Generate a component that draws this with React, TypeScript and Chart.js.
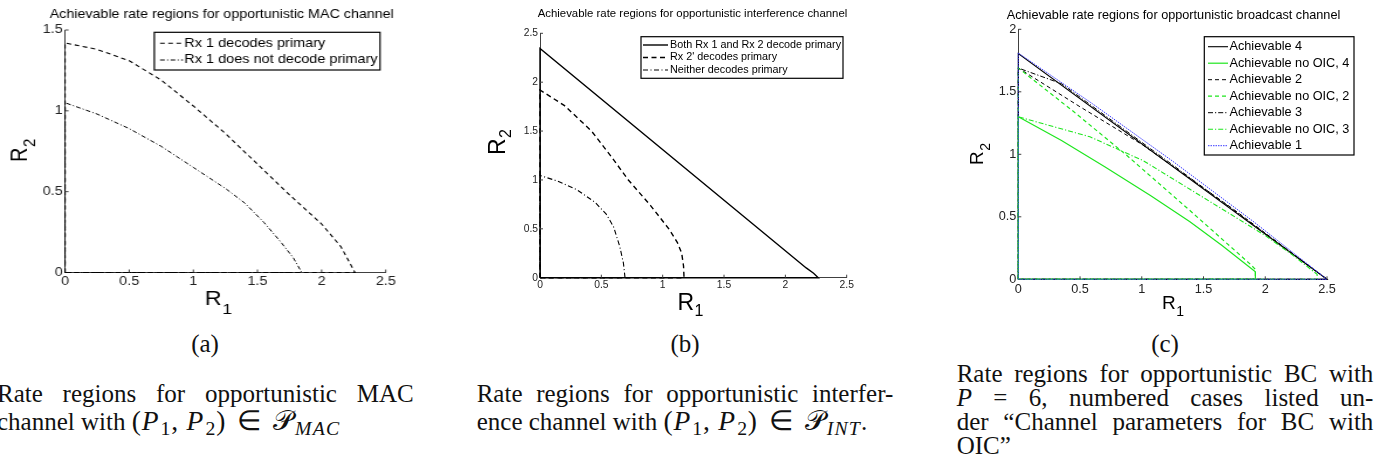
import React, { useEffect, useRef } from "react";
import { Chart, registerables } from "chart.js";

Chart.register(...registerables);

// ---------------- (a) opportunistic MAC channel ----------------
const macTicksR1 = [0, 0.5, 1, 1.5, 2, 2.5];
const macTicksR2 = [0, 0.5, 1, 1.5];
const macDecodeR1 = [0, 0, 0.25, 0.5, 0.75, 1.0, 1.25, 1.5, 1.75, 2.0, 2.15, 2.26, 0];
const macDecodeR2 = [0, 1.42, 1.38, 1.31, 1.19, 1.03, 0.86, 0.67, 0.48, 0.3, 0.16, 0, 0];
const macNoDecodeR1 = [0, 0, 0.25, 0.5, 0.75, 1.0, 1.25, 1.4, 1.55, 1.68, 1.78, 1.845, 0];
const macNoDecodeR2 = [0, 1.05, 0.98, 0.89, 0.78, 0.65, 0.52, 0.43, 0.31, 0.19, 0.09, 0, 0];

// ---------------- (b) opportunistic interference channel ----------------
const intTicksR1 = [0, 0.5, 1, 1.5, 2, 2.5];
const intTicksR2 = [0, 0.5, 1, 1.5, 2, 2.5];
const intBothR1 = [0, 0, 2.17, 2.23, 2.268, 0];
const intBothR2 = [0, 2.345, 0.1, 0.045, 0, 0];
const intRx2R1 = [0, 0, 0.2, 0.42, 0.58, 0.72, 0.9, 1.05, 1.12, 1.155, 1.17, 1.174, 0];
const intRx2R2 = [0, 1.92, 1.76, 1.5, 1.24, 1.0, 0.74, 0.5, 0.36, 0.25, 0.12, 0, 0];
const intNeitherR1 = [0, 0, 0.14, 0.3, 0.45, 0.54, 0.6, 0.65, 0.68, 0.693, 0];
const intNeitherR2 = [0, 1.045, 0.99, 0.9, 0.77, 0.65, 0.52, 0.32, 0.15, 0, 0];

// ---------------- (c) opportunistic broadcast channel ----------------
const bcTicksR1 = [0, 0.5, 1, 1.5, 2, 2.5];
const bcTicksR2 = [0, 0.5, 1, 1.5, 2];
const bcAch4R1 = [0, 0, 2.5, 0];
const bcAch4R2 = [0, 1.806, 0, 0];
const bcNoOic4R1 = [0, 0, 0.35, 0.7, 1.07, 1.39, 1.65, 1.92, 1.92, 0];
const bcNoOic4R2 = [0, 1.3, 1.11, 0.9, 0.67, 0.46, 0.27, 0.06, 0, 0];
const bcAch2R1 = [0, 0, 0.5, 1.0, 1.75, 2.5, 0];
const bcAch2R2 = [0, 1.69, 1.38, 1.08, 0.555, 0, 0];
const bcNoOic2R1 = [0, 0, 0.45, 0.88, 1.39, 1.88, 1.92, 1.92, 0];
const bcNoOic2R2 = [0, 1.69, 1.34, 0.99, 0.55, 0.12, 0.08, 0, 0];
const bcAch3R1 = [0, 0, 0.35, 1.25, 2.5, 0];
const bcAch3R2 = [0, 1.69, 1.565, 0.915, 0, 0];
const bcNoOic3R1 = [0, 0, 0.58, 1.01, 1.39, 1.72, 2.0, 2.2, 2.42, 2.42, 0];
const bcNoOic3R2 = [0, 1.3, 1.14, 0.95, 0.72, 0.52, 0.35, 0.21, 0.04, 0, 0];
const bcAch1R1 = [0, 0, 0.6, 1.25, 1.9, 2.5, 0];
const bcAch1R2 = [0, 1.81, 1.405, 0.945, 0.465, 0, 0];

// ---------------- styling ----------------
const SANS = '"Liberation Sans", Arial, Helvetica, sans-serif';
const SERIF = '"Liberation Serif", "Times New Roman", Times, serif';
const BLACK = "#000000";
const GREEN = "#1ee61e";
const BLUE = "#3c3cff";
const AXIS = "#404040";
const TICKTEXT = "#222222";

type Series = { label: string; r1: number[]; r2: number[]; color: string; dash: number[]; width: number };
type RLabel = { x: number; y: number; size: number; sub: string; subSize: number; subDy: number };
type PanelDef = {
  id: string;
  left: number;
  width: number;
  height: number;
  sx: number;
  pad: { left: number; right: number; top: number; bottom: number };
  yAxisW: number;
  xAxisH: number;
  xMax: number;
  yMax: number;
  xTicks: number[];
  yTicks: number[];
  tickFont: number;
  xPad: number;
  yPad: number;
  tickLen: number;
  title: { text: string; x: number; y: number; size: number };
  r1: RLabel;
  r2: RLabel;
  legend: { x0: number; y0: number; x1: number; y1: number; sx0: number; sx1: number; tx: number; row0: number; gap: number; size: number };
  series: Series[];
};

const panelA: PanelDef = {
  id: "a",
  left: 0,
  width: 345,
  height: 330,
  sx: 1.17,
  pad: { left: 25.6, right: 15.3, top: 30, bottom: 32.5 },
  yAxisW: 30,
  xAxisH: 25,
  xMax: 2.5,
  yMax: 1.5,
  xTicks: macTicksR1,
  yTicks: macTicksR2,
  tickFont: 12.3,
  xPad: 1.8,
  yPad: 2,
  tickLen: 3,
  title: { text: "Achievable rate regions for opportunistic MAC channel", x: 189.5, y: 18.3, size: 12.2 },
  r1: { x: 175, y: 305, size: 20, sub: "1", subSize: 15, subDy: 9 },
  r2: { x: 23.3, y: 162, size: 20, sub: "2", subSize: 15, subDy: 7 },
  legend: { x0: 131.9, y0: 32.3, x1: 324.8, y1: 70, sx0: 136.8, sx1: 156.4, tx: 157.5, row0: 43.3, gap: 16.7, size: 12.4 },
  series: [
    { label: "Rx 1 decodes primary", r1: macDecodeR1, r2: macDecodeR2, color: BLACK, dash: [4, 3], width: 1.1 },
    { label: "Rx 1 does not decode primary", r1: macNoDecodeR1, r2: macNoDecodeR2, color: BLACK, dash: [4, 2, 1, 2], width: 1.0 },
  ],
};

const panelB: PanelDef = {
  id: "b",
  left: 460,
  width: 410,
  height: 330,
  sx: 1,
  pad: { left: 50, right: 23.3, top: 33.3, bottom: 27.3 },
  yAxisW: 30,
  xAxisH: 25,
  xMax: 2.5,
  yMax: 2.5,
  xTicks: intTicksR1,
  yTicks: intTicksR2,
  tickFont: 10.3,
  xPad: 1.6,
  yPad: 2,
  tickLen: 3,
  title: { text: "Achievable rate regions for opportunistic interference channel", x: 232.5, y: 16.7, size: 11.4 },
  r1: { x: 217.5, y: 309.8, size: 23, sub: "1", subSize: 16, subDy: 6 },
  r2: { x: 45, y: 155, size: 23, sub: "2", subSize: 16, subDy: 6 },
  legend: { x0: 181, y0: 36.7, x1: 383, y1: 78.3, sx0: 183, sx1: 208, tx: 210, row0: 45, gap: 12.5, size: 10.8 },
  series: [
    { label: "Both Rx 1 and Rx 2 decode primary", r1: intBothR1, r2: intBothR2, color: BLACK, dash: [], width: 1.4 },
    { label: "Rx 2' decodes primary", r1: intRx2R1, r2: intRx2R2, color: BLACK, dash: [5, 3.5], width: 1.4 },
    { label: "Neither decodes primary", r1: intNeitherR1, r2: intNeitherR2, color: BLACK, dash: [5, 2.5, 1, 2.5], width: 1.1 },
  ],
};

const panelC: PanelDef = {
  id: "c",
  left: 930,
  width: 444,
  height: 330,
  sx: 1,
  pad: { left: 58.3, right: 47, top: 29.3, bottom: 25.7 },
  yAxisW: 30,
  xAxisH: 25,
  xMax: 2.5,
  yMax: 2,
  xTicks: bcTicksR1,
  yTicks: bcTicksR2,
  tickFont: 12.7,
  xPad: 2.1,
  yPad: 2,
  tickLen: 3,
  title: { text: "Achievable rate regions for opportunistic broadcast channel", x: 243.5, y: 19, size: 12.7 },
  r1: { x: 232, y: 308.6, size: 19, sub: "1", subSize: 14, subDy: 7 },
  r2: { x: 53.3, y: 165, size: 19, sub: "2", subSize: 14, subDy: 7 },
  legend: { x0: 274.3, y0: 36.7, x1: 424, y1: 155, sx0: 278, sx1: 298, tx: 299.5, row0: 46.7, gap: 16.5, size: 12.7 },
  series: [
    { label: "Achievable 4", r1: bcAch4R1, r2: bcAch4R2, color: BLACK, dash: [], width: 1.1 },
    { label: "Achievable no OIC, 4", r1: bcNoOic4R1, r2: bcNoOic4R2, color: GREEN, dash: [], width: 1.2 },
    { label: "Achievable 2", r1: bcAch2R1, r2: bcAch2R2, color: BLACK, dash: [4, 3], width: 1.0 },
    { label: "Achievable no OIC, 2", r1: bcNoOic2R1, r2: bcNoOic2R2, color: GREEN, dash: [4, 3], width: 1.2 },
    { label: "Achievable 3", r1: bcAch3R1, r2: bcAch3R2, color: BLACK, dash: [5, 2, 1.2, 2], width: 1.0 },
    { label: "Achievable no OIC, 3", r1: bcNoOic3R1, r2: bcNoOic3R2, color: GREEN, dash: [5, 2, 1.2, 2], width: 1.1 },
    { label: "Achievable 1", r1: bcAch1R1, r2: bcAch1R2, color: BLUE, dash: [1.5, 1], width: 1.0 },
  ],
};

const zip = (xs: number[], ys: number[]) => xs.map((x, i) => ({ x, y: ys[i] }));

function drawRLabel(ctx: CanvasRenderingContext2D, lab: RLabel, rotate: boolean) {
  ctx.save();
  ctx.translate(lab.x, lab.y);
  if (rotate) ctx.rotate(-Math.PI / 2);
  ctx.fillStyle = "#000";
  ctx.textAlign = "left";
  ctx.textBaseline = "alphabetic";
  ctx.font = `${lab.size}px ${SANS}`;
  ctx.fillText("R", 0, 0);
  const w = ctx.measureText("R").width;
  ctx.font = `${lab.subSize}px ${SANS}`;
  ctx.fillText(lab.sub, w + 0.5, lab.subDy);
  ctx.restore();
}

function Panel({ def }: { def: PanelDef }) {
  const ref = useRef<HTMLCanvasElement | null>(null);
  useEffect(() => {
    const canvas = ref.current;
    if (!canvas) return;
    const overlay = {
      id: "overlay_" + def.id,
      afterDraw(chart: any) {
        const ctx: CanvasRenderingContext2D = chart.ctx;
        const xs = chart.scales.x;
        const ys = chart.scales.y;
        const { left, bottom } = chart.chartArea;
        ctx.save();
        // inside tick marks (MATLAB style)
        ctx.strokeStyle = AXIS;
        ctx.lineWidth = 1;
        ctx.setLineDash([]);
        ctx.beginPath();
        def.xTicks.forEach((v) => {
          if (v === 0) return;
          const p = xs.getPixelForValue(v);
          ctx.moveTo(p, bottom);
          ctx.lineTo(p, bottom - def.tickLen);
        });
        def.yTicks.forEach((v) => {
          if (v === 0) return;
          const p = ys.getPixelForValue(v);
          ctx.moveTo(left, p);
          ctx.lineTo(left + def.tickLen, p);
        });
        ctx.stroke();

        // title
        ctx.fillStyle = "#000";
        ctx.font = `${def.title.size}px ${SANS}`;
        ctx.textAlign = "center";
        ctx.textBaseline = "alphabetic";
        ctx.fillText(def.title.text, def.title.x, def.title.y);

        // axis labels with subscripts
        drawRLabel(ctx, def.r1, false);
        drawRLabel(ctx, def.r2, true);

        // legend box
        const L = def.legend;
        ctx.fillStyle = "#fff";
        ctx.fillRect(L.x0, L.y0, L.x1 - L.x0, L.y1 - L.y0);
        ctx.strokeStyle = "#000";
        ctx.lineWidth = 1.2;
        ctx.strokeRect(L.x0, L.y0, L.x1 - L.x0, L.y1 - L.y0);
        chart.data.datasets.forEach((ds: any, i: number) => {
          const y = L.row0 + i * L.gap;
          ctx.strokeStyle = ds.borderColor;
          ctx.lineWidth = ds.borderWidth;
          ctx.setLineDash(ds.borderDash || []);
          ctx.beginPath();
          ctx.moveTo(L.sx0, y);
          ctx.lineTo(L.sx1, y);
          ctx.stroke();
          ctx.setLineDash([]);
          ctx.fillStyle = "#000";
          ctx.font = `${L.size}px ${SANS}`;
          ctx.textAlign = "left";
          ctx.textBaseline = "middle";
          ctx.fillText(ds.label, L.tx, y);
        });
        ctx.restore();
      },
    };

    const n = def.series.length;
    const chart = new Chart(canvas, {
      type: "scatter",
      data: {
        datasets: def.series.map((s, i) => ({
          label: s.label,
          data: zip(s.r1, s.r2),
          showLine: true,
          fill: false,
          borderColor: s.color,
          backgroundColor: s.color,
          borderWidth: s.width,
          borderDash: s.dash,
          pointRadius: 0,
          pointHoverRadius: 0,
          tension: 0,
          clip: false,
          order: n - i,
        })),
      },
      options: {
        animation: false,
        responsive: true,
        maintainAspectRatio: false,
        events: [],
        layout: { padding: def.pad },
        plugins: {
          legend: { display: false },
          title: { display: false },
          tooltip: { enabled: false },
        },
        scales: {
          x: {
            type: "linear",
            min: 0,
            max: def.xMax,
            afterBuildTicks: (s: any) => {
              s.ticks = def.xTicks.map((v) => ({ value: v }));
            },
            afterFit: (s: any) => {
              s.height = def.xAxisH;
            },
            grid: { display: false, drawTicks: false },
            border: { display: true, color: AXIS, width: 1 },
            ticks: {
              padding: def.xPad,
              autoSkip: false,
              maxRotation: 0,
              color: TICKTEXT,
              font: { family: SANS, size: def.tickFont },
              callback: (v: any) => String(v),
            },
          },
          y: {
            type: "linear",
            min: 0,
            max: def.yMax,
            afterBuildTicks: (s: any) => {
              s.ticks = def.yTicks.map((v) => ({ value: v }));
            },
            afterFit: (s: any) => {
              s.width = def.yAxisW;
            },
            grid: { display: false, drawTicks: false },
            border: { display: true, color: AXIS, width: 1 },
            ticks: {
              padding: def.yPad,
              autoSkip: false,
              color: TICKTEXT,
              font: { family: SANS, size: def.tickFont },
              callback: (v: any) => String(v),
            },
          },
        },
      } as any,
      plugins: [overlay],
    });
    return () => chart.destroy();
  }, [def]);

  return (
    <div
      style={{
        position: "absolute",
        left: def.left,
        top: 0,
        width: def.width,
        height: def.height,
        transform: `scaleX(${def.sx})`,
        transformOrigin: "0 0",
      }}
    >
      <canvas ref={ref} />
    </div>
  );
}

// ---------------- captions ----------------
const CAP_SIZE = 25;
const BASE_OFF = 20.94; // baseline offset inside a 25px line box for Liberation Serif

const mathStyle: React.CSSProperties = { fontSize: "1.1em", letterSpacing: "0.03em", lineHeight: 0 };
const subStyle: React.CSSProperties = { fontSize: "0.72em", verticalAlign: "-0.28em", lineHeight: 0, marginLeft: "0.06em" };
const calP: React.CSSProperties = { fontFamily: '"DejaVu Serif", "DejaVu Sans", serif', fontStyle: "normal", fontWeight: 300 };
const relStyle: React.CSSProperties = { margin: "0 0.12em" };

function Line({ left, baseline, width, last, children }: { left: number; baseline: number; width: number; last?: boolean; children: React.ReactNode }) {
  return (
    <div
      style={{
        position: "absolute",
        left,
        top: baseline - BASE_OFF,
        width,
        fontFamily: SERIF,
        fontSize: CAP_SIZE,
        lineHeight: `${CAP_SIZE}px`,
        color: "#111",
        whiteSpace: "nowrap",
        textAlign: last ? "left" : "justify",
        textAlignLast: last ? "left" : "justify",
      } as React.CSSProperties}
    >
      {children}
    </div>
  );
}

function Letter({ cx, baseline, text }: { cx: number; baseline: number; text: string }) {
  return (
    <div
      style={{
        position: "absolute",
        left: cx - 50,
        top: baseline - BASE_OFF,
        width: 100,
        textAlign: "center",
        fontFamily: SERIF,
        fontSize: CAP_SIZE,
        lineHeight: `${CAP_SIZE}px`,
        color: "#111",
      }}
    >
      {text}
    </div>
  );
}

function PowerSet({ name }: { name: string }) {
  return (
    <span style={mathStyle}>
      (<i>P</i>
      <span style={subStyle}>1</span>, <i>P</i>
      <span style={subStyle}>2</span>)<span style={relStyle}> ∈ </span>
      <span style={calP}>𝒫</span>
      <span style={{ ...subStyle, letterSpacing: "0.06em" }}>
        <i>{name}</i>
      </span>
    </span>
  );
}

export default function App() {
  const W = 416.7;
  return (
    <div style={{ position: "absolute", left: 0, top: 0, width: 1374, height: 466, background: "#fff", overflow: "hidden" }}>
      <Panel def={panelA} />
      <Panel def={panelB} />
      <Panel def={panelC} />

      <Letter cx={205} baseline={351.7} text="(a)" />
      <Letter cx={685} baseline={351.7} text="(b)" />
      <Letter cx={1165} baseline={351.7} text="(c)" />

      <Line left={-3} baseline={402} width={W}>Rate regions for opportunistic MAC</Line>
      <Line left={-3} baseline={429.7} width={W} last>
        channel with <PowerSet name="MAC" />
      </Line>

      <Line left={476.7} baseline={402} width={W}>Rate regions for opportunistic interfer-</Line>
      <Line left={476.7} baseline={429.7} width={W} last>
        ence channel with <PowerSet name="INT" />.
      </Line>

      <Line left={956.7} baseline={381.7} width={W}>Rate regions for opportunistic BC with</Line>
      <Line left={956.7} baseline={405.7} width={W}>
        <i>P</i> = 6, numbered cases listed un-
      </Line>
      <Line left={956.7} baseline={429.7} width={W}>der “Channel parameters for BC with</Line>
      <Line left={956.7} baseline={453.7} width={W} last>OIC”</Line>
    </div>
  );
}
